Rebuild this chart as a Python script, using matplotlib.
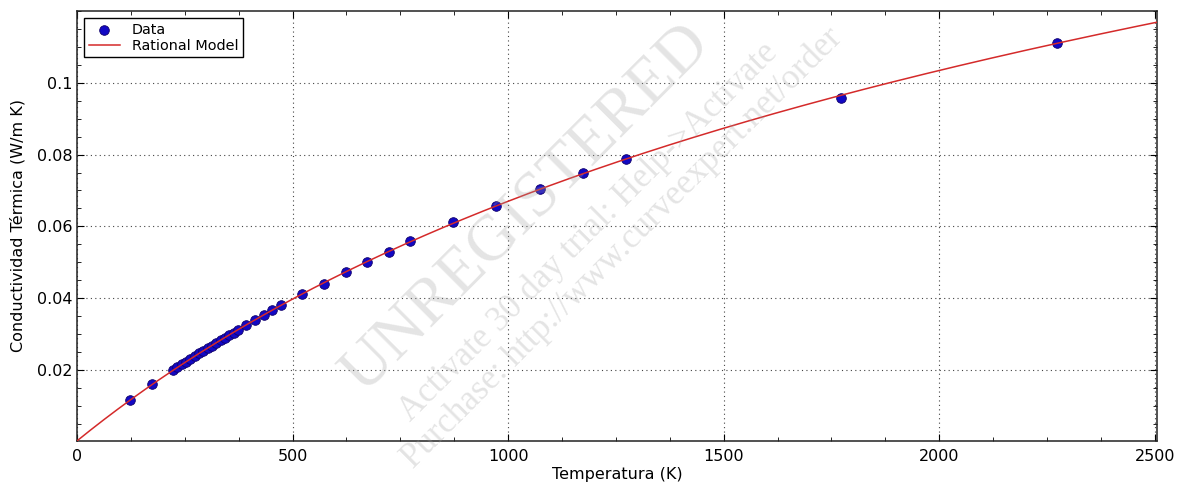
import numpy as np
import matplotlib
matplotlib.use('Agg')
import matplotlib.pyplot as plt
from matplotlib.ticker import MultipleLocator

# ── Data ─────────────────────────────────────────────────────────────────────
temp_k = [123, 173, 223, 233, 243, 253, 263, 273, 283, 293, 303, 313, 323, 333,
          343, 353, 363, 373, 393, 413, 433, 453, 473, 523, 573, 623, 673, 723,
          773, 873, 973, 1073, 1173, 1273, 1773, 2273]
k_cond = [0.0117, 0.0161, 0.0200, 0.0208, 0.0216, 0.0223, 0.0231, 0.0238,
          0.0246, 0.0253, 0.0260, 0.0268, 0.0275, 0.0282, 0.0289, 0.0296,
          0.0303, 0.0310, 0.0326, 0.0339, 0.0353, 0.0366, 0.0381, 0.0412,
          0.0440, 0.0474, 0.0502, 0.0528, 0.0560, 0.0612, 0.0657, 0.0705,
          0.0750, 0.0788, 0.0959, 0.1112]

x_ticks = [0, 500, 1000, 1500, 2000, 2500]
y_ticks = [0.02, 0.04, 0.06, 0.08, 0.1]
y_ticklabels = ['0.02', '0.04', '0.06', '0.08', '0.1']

# ── Rational model fit  y = (a + b x) / (1 + c x + d x^2) ────────────────────
x = np.array(temp_k, dtype=float) / 1000.0
y = np.array(k_cond)
A = np.column_stack([np.ones_like(x), x, -x * y, -x**2 * y])
coef, *_ = np.linalg.lstsq(A, y, rcond=None)
a, b, c, d = coef
xf = np.linspace(0, 2.51, 400)
yf = (a + b * xf) / (1 + c * xf + d * xf**2)

# ── Figure ───────────────────────────────────────────────────────────────────
W, H = 1186, 483
fig = plt.figure(figsize=(W / 100, H / 100), dpi=100)
ax = fig.add_axes([77 / W, 1 - 441 / H, (1157 - 77) / W, (441 - 11) / H])

ax.scatter(temp_k, k_cond, s=48, facecolor='#1208c4', edgecolor='#10006a',
           linewidth=0.6, label='Data', zorder=2)
ax.plot(xf * 1000, yf, color='#d42a2a', lw=1.1, label='Rational Model', zorder=3)

ax.set_xlim(0, 2505)
ax.set_ylim(0.0002, 0.12)
ax.set_xticks(x_ticks)
ax.set_yticks(y_ticks)
ax.set_yticklabels(y_ticklabels)
ax.xaxis.set_minor_locator(MultipleLocator(125))
ax.yaxis.set_minor_locator(MultipleLocator(0.005))
ax.tick_params(which='both', direction='in', top=True, right=True, labelsize=11.5)
ax.tick_params(which='major', length=5, width=0.8)
ax.tick_params(which='minor', length=3, width=0.6)
ax.tick_params(axis='x', pad=6)
for s in ax.spines.values():
    s.set_linewidth(1.1)
    s.set_color('#222222')

ax.grid(True, which='major', color='#444444', linestyle=(0, (1, 3)), lw=0.8)
ax.set_axisbelow(True)

ax.set_xlabel('Temperatura (K)', fontsize=11.5, labelpad=2)
ax.set_ylabel('Conductividad Térmica (W/m K)', fontsize=11.5, labelpad=8)

leg = ax.legend(loc='upper left', fontsize=10.4, scatterpoints=1, fancybox=False,
                framealpha=1, edgecolor='black', borderaxespad=0.5,
                borderpad=0.3, labelspacing=0.15, handlelength=2.2,
                handletextpad=0.8)
leg.get_frame().set_linewidth(1.0)

# ── Watermark ────────────────────────────────────────────────────────────────
wm = dict(rotation=45, ha='center', va='center', rotation_mode='anchor',
          color='#a0a0a0', alpha=0.28, family='Liberation Serif', zorder=10)
fig.text(526 / W, 1 - 208 / H, 'UNREGISTERED', fontsize=47, **wm)
fig.text(588 / W, 1 - 232 / H, 'Activate 30 day trial: Help->Activate', fontsize=25, **wm)
fig.text(622 / W, 1 - 248 / H, 'Purchase: http://www.curveexpert.net/order', fontsize=25, **wm)

fig.savefig('out.png', dpi=100, facecolor='white')
